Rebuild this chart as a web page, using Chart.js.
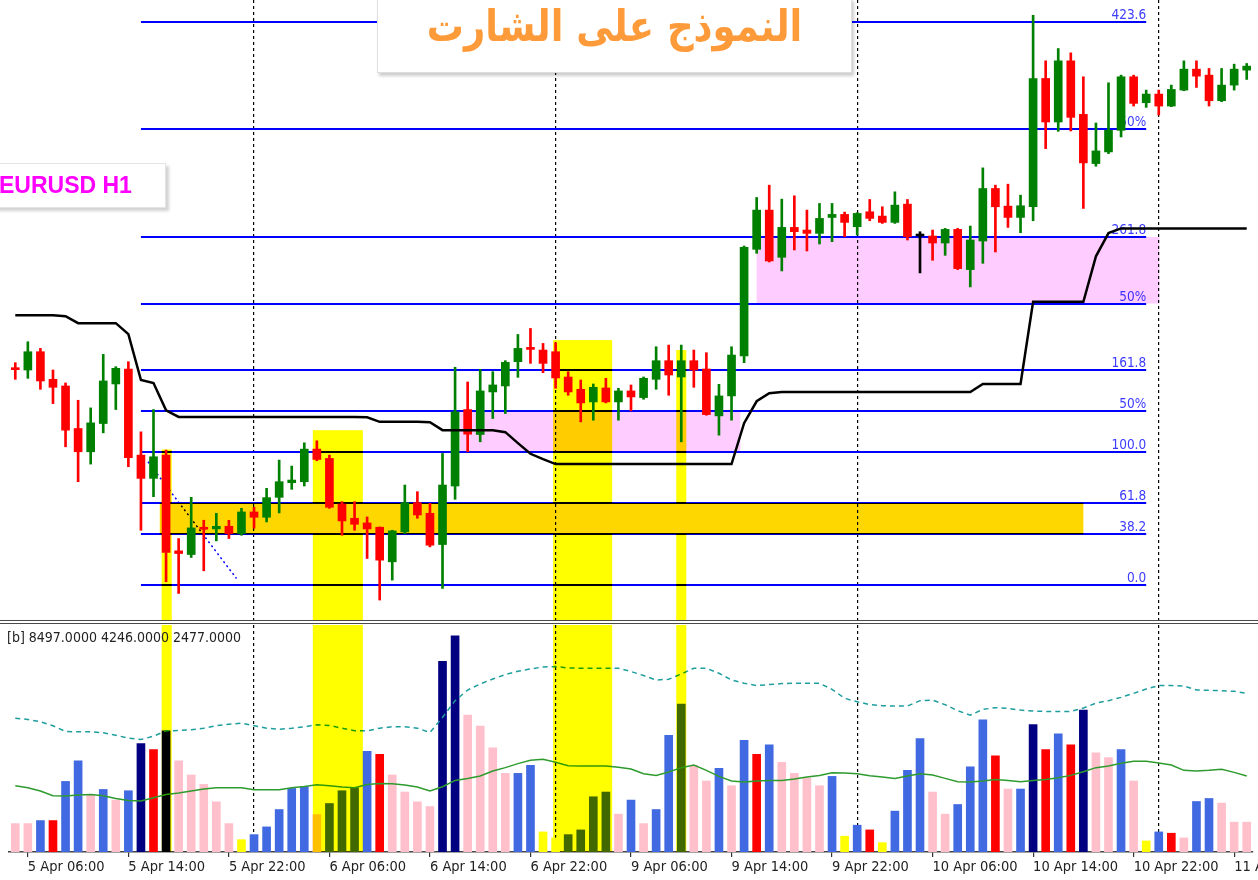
<!DOCTYPE html>
<html>
<head>
<meta charset="utf-8">
<script src="https://cdn.jsdelivr.net/npm/chart.js@4.4.1/dist/chart.umd.min.js"></script>
<style>
  html, body { margin: 0; padding: 0; background: #fff; }
  #wrap { position: relative; width: 1258px; height: 880px; overflow: hidden; background: #fff; }
  canvas { position: absolute; left: 0; }
  #priceCanvas { top: 0; }
  #volCanvas { top: 624px; }
  .split { position: absolute; left: 0; top: 620px; width: 1258px; height: 4px; box-sizing: border-box;
           border-top: 1px solid #4a4a4a; border-bottom: 1px solid #4a4a4a; }
  .volHead { position: absolute; left: 7px; top: 629px; font: 14px 'DejaVu Sans Condensed', 'DejaVu Sans', sans-serif;
             color: #222; white-space: nowrap; }
  .symbol { position: absolute; left: -6px; top: 163px; width: 172px; height: 45px; background: #fff;
            border: 1px solid #e4e4e4; box-sizing: border-box; box-shadow: 3px 3px 3px rgba(0,0,0,0.18); }
  .symbol span { position: absolute; left: 4px; top: 8px; font: bold 23px 'Liberation Sans', Arial, sans-serif; color: #ff00ff; }
  .title { position: absolute; left: 377px; top: -2px; width: 475px; height: 75px; background: #fff;
           border: 1px solid #dedede; box-sizing: border-box; box-shadow: 2px 3px 3px rgba(0,0,0,0.2);
           text-align: center; }
  .title span { display: inline-block; margin-top: 7px; font: bold 37px 'DejaVu Sans', sans-serif; color: #fd9a3a;
                transform: scale(1, 1.18); transform-origin: 50% 70%; }
</style>
</head>
<body>
<div id="wrap">
  <canvas id="priceCanvas" width="1258" height="620"></canvas>
  <div class="split"></div>
  <canvas id="volCanvas" width="1258" height="256"></canvas>
  <div class="volHead">[b] 8497.0000 4246.0000 2477.0000</div>
  <div class="symbol"><span>EURUSD H1</span></div>
  <div class="title"><span dir="rtl">النموذج على الشارت</span></div>
</div>
<script>
// hourly bars, weekend skipped
const sessions = [['5 Apr', 5, 23], ['6 Apr', 0, 23], ['9 Apr', 0, 23], ['10 Apr', 0, 23], ['11 Apr', 0, 7]];
const times = [];
sessions.forEach(([day, from, to]) => {
  for (let h = from; h <= to; h++) times.push(day + ' ' + String(h).padStart(2, '0') + ':00');
});
const tickHours = ['06:00', '14:00', '22:00'];

const opens = [
  1.22851, 1.22847, 1.22902, 1.22819, 1.22799, 1.22671, 1.22601, 1.22686, 1.22805, 1.22850,
  1.22591, 1.22521, 1.22591, 1.22303, 1.22292, 1.22372, 1.22369, 1.22377, 1.22355, 1.22420,
  1.22404, 1.22464, 1.22508, 1.22511, 1.22609, 1.22581, 1.22444, 1.22401, 1.22387, 1.22374,
  1.22270, 1.22360, 1.22448, 1.22416, 1.22322, 1.22498, 1.22728, 1.22653, 1.22781, 1.22799,
  1.22872, 1.22912, 1.22907, 1.22902, 1.22826, 1.22789, 1.22751, 1.22793, 1.22751, 1.22784,
  1.22764, 1.22819, 1.22875, 1.22826, 1.22875, 1.22850, 1.22709, 1.22769, 1.22889, 1.23210,
  1.23328, 1.23186, 1.23276, 1.23268, 1.23258, 1.23306, 1.23315, 1.23278, 1.23323, 1.23310,
  1.23291, 1.23346, 1.23250, 1.23250, 1.23229, 1.23270, 1.23149, 1.23235, 1.23393, 1.23340,
  1.23306, 1.23338, 1.23724, 1.23593, 1.23777, 1.23616, 1.23468, 1.23503, 1.23568, 1.23729,
  1.23651, 1.23677, 1.23641, 1.23689, 1.23752, 1.23734, 1.23657, 1.23704, 1.23749
];
const highs = [
  1.22869, 1.22932, 1.22912, 1.22847, 1.22808, 1.22756, 1.22733, 1.22894, 1.22857, 1.22872,
  1.22661, 1.22728, 1.22606, 1.22340, 1.22464, 1.22395, 1.22416, 1.22395, 1.22431, 1.22434,
  1.22491, 1.22576, 1.22558, 1.22628, 1.22634, 1.22591, 1.22451, 1.22451, 1.22405, 1.22375,
  1.22365, 1.22501, 1.22481, 1.22446, 1.22596, 1.22855, 1.22811, 1.22849, 1.22842, 1.22875,
  1.22954, 1.22972, 1.22927, 1.22929, 1.22842, 1.22817, 1.22805, 1.22822, 1.22792, 1.22802,
  1.22826, 1.22917, 1.22922, 1.22922, 1.22907, 1.22899, 1.22804, 1.22917, 1.23220, 1.23366,
  1.23403, 1.23361, 1.23371, 1.23328, 1.23348, 1.23348, 1.23322, 1.23320, 1.23360, 1.23338,
  1.23383, 1.23360, 1.23263, 1.23268, 1.23273, 1.23273, 1.23280, 1.23455, 1.23403, 1.23406,
  1.23373, 1.23914, 1.23777, 1.23814, 1.23801, 1.23729, 1.23590, 1.23711, 1.23734, 1.23734,
  1.23689, 1.23689, 1.23704, 1.23777, 1.23777, 1.23754, 1.23754, 1.23767, 1.23769
];
const lows = [
  1.22819, 1.22822, 1.22789, 1.22746, 1.22616, 1.22511, 1.22564, 1.22658, 1.22728, 1.22556,
  1.22365, 1.22466, 1.22210, 1.22175, 1.22283, 1.22243, 1.22333, 1.22340, 1.22350, 1.22371,
  1.22390, 1.22417, 1.22488, 1.22498, 1.22574, 1.22431, 1.22350, 1.22365, 1.22280, 1.22155,
  1.22215, 1.22355, 1.22401, 1.22315, 1.22190, 1.22458, 1.22601, 1.22631, 1.22701, 1.22716,
  1.22825, 1.22867, 1.22839, 1.22792, 1.22771, 1.22691, 1.22696, 1.22748, 1.22696, 1.22724,
  1.22759, 1.22789, 1.22771, 1.22631, 1.22795, 1.22711, 1.22651, 1.22696, 1.22869, 1.23198,
  1.23172, 1.23145, 1.23208, 1.23205, 1.23226, 1.23233, 1.23248, 1.23253, 1.23296, 1.23288,
  1.23288, 1.23238, 1.23139, 1.23177, 1.23192, 1.23149, 1.23097, 1.23168, 1.23202, 1.23276,
  1.23260, 1.23296, 1.23513, 1.23565, 1.23566, 1.23333, 1.23460, 1.23498, 1.23548, 1.23641,
  1.23637, 1.23614, 1.23639, 1.23687, 1.23697, 1.23641, 1.23654, 1.23689, 1.23721
];
const closes = [
  1.22848, 1.22902, 1.22814, 1.22795, 1.22666, 1.22601, 1.22688, 1.22814, 1.22852, 1.22583,
  1.22521, 1.22586, 1.22298, 1.22295, 1.22372, 1.22368, 1.22377, 1.22355, 1.22420, 1.22404,
  1.22463, 1.22511, 1.22516, 1.22609, 1.22578, 1.22434, 1.22393, 1.22383, 1.22369, 1.22275,
  1.22363, 1.22448, 1.22411, 1.22320, 1.22501, 1.22721, 1.22654, 1.22784, 1.22802, 1.22870,
  1.22912, 1.22909, 1.22867, 1.22823, 1.22781, 1.22748, 1.22795, 1.22751, 1.22784, 1.22766,
  1.22822, 1.22875, 1.22832, 1.22875, 1.22847, 1.22713, 1.22769, 1.22892, 1.23216, 1.23328,
  1.23175, 1.23276, 1.23263, 1.23258, 1.23303, 1.23315, 1.23291, 1.23318, 1.23303, 1.23291,
  1.23343, 1.23248, 1.23250, 1.23229, 1.23270, 1.23152, 1.23238, 1.23393, 1.23338, 1.23306,
  1.23341, 1.23724, 1.23593, 1.23777, 1.23607, 1.23470, 1.23506, 1.23568, 1.23729, 1.23649,
  1.23677, 1.23641, 1.23691, 1.23752, 1.23731, 1.23657, 1.23704, 1.23752, 1.23761
];
// black stop line over the candles
const trendStop = [
  1.23012, 1.23012, 1.23012, 1.23012, 1.23009, 1.22988, 1.22988, 1.22988, 1.22988, 1.22955,
  1.22817, 1.22808, 1.22726, 1.22706, 1.22706, 1.22706, 1.22706, 1.22706, 1.22706, 1.22706,
  1.22706, 1.22706, 1.22706, 1.22706, 1.22706, 1.22706, 1.22706, 1.22706, 1.22705, 1.22691,
  1.22691, 1.22691, 1.22691, 1.22690, 1.22666, 1.22666, 1.22666, 1.22666, 1.22666, 1.22660,
  1.22627, 1.22595, 1.22579, 1.22564, 1.22564, 1.22564, 1.22564, 1.22564, 1.22564, 1.22564,
  1.22564, 1.22564, 1.22564, 1.22564, 1.22564, 1.22564, 1.22564, 1.22564, 1.22687, 1.22753,
  1.22777, 1.22781, 1.22781, 1.22781, 1.22781, 1.22781, 1.22781, 1.22781, 1.22781, 1.22781,
  1.22781, 1.22781, 1.22781, 1.22781, 1.22781, 1.22781, 1.22781, 1.22805, 1.22805, 1.22805,
  1.22805, 1.23052, 1.23052, 1.23052, 1.23052, 1.23052, 1.23189, 1.23259, 1.23273, 1.23273,
  1.23273, 1.23273, 1.23273, 1.23273, 1.23273, 1.23273, 1.23273, 1.23273, 1.23273
];

// fibo levels, drawn from bar 10 to bar 90
const fibPrices = [1.23894, 1.23571, 1.23247, 1.23047, 1.22847, 1.22724, 1.22600, 1.22447, 1.22353, 1.22200];
const fibLabels = ['423.6', '50%', '261.8', '50%', '161.8', '50%', '100.0', '61.8', '38.2', '0.0'];
const fibSpan = [10, 90];
// [fromBar, toBar, lowPrice, highPrice]
const pinkZones = [[35.4, 57.7, 1.22600, 1.22724], [59.0, 91.05, 1.23047, 1.23247]];
const goldZones = [[11.5, 85.0, 1.22353, 1.22447]];
// [fromBar, toBar, topPrice] - runs down through the volume window
const yellowBands = [[11.65, 12.45, 1.22608], [23.68, 27.66, 1.22666], [42.8, 47.5, 1.22937], [52.6, 53.4, 1.22907]];
const trendLine = [[10.56, 1.22571], [17.6, 1.22220]];

const volumes = [
  1542, 1542, 1706, 1706, 3831, 4943, 3090, 3395, 2818, 3325,
  5886, 5559, 6578, 4943, 4180, 3668, 2725, 1542, 670, 943,
  1363, 2305, 3450, 3543, 2033, 2632, 3325, 3488, 5466, 5303,
  4180, 3254, 2725, 2469, 10355, 11734, 7428, 6829, 5652, 4267,
  4267, 4703, 1090, 763, 943, 1199, 2998, 3254, 2055, 2818,
  1542, 2305, 6338, 8028, 4703, 3853, 4540, 3597, 6066, 5303,
  5815, 4867, 4267, 4017, 3597, 4104, 856, 1455, 1199, 507,
  2218, 4431, 6159, 3254, 2055, 2578, 4616, 7178, 5216, 3417,
  3417, 6922, 5559, 6415, 5815, 7701, 5379, 5123, 5559, 3853,
  600, 1090, 1019, 763, 2741, 2905, 2654, 1619, 1619
];
// P pink, B blue, R red, N navy, Y yellow
const volKind = [
  'P','P','B','R','B','B','P','B','P','B',
  'N','R','N','P','P','P','P','P','Y','B',
  'B','B','B','B','P','B','B','B','B','R',
  'P','P','P','P','N','N','P','P','P','P',
  'B','B','Y','Y','B','B','B','B','P','B',
  'P','B','B','B','P','P','B','P','B','R',
  'B','P','P','P','P','B','Y','B','R','Y',
  'B','B','B','P','P','B','B','B','R','P',
  'B','N','R','B','R','N','P','P','B','P',
  'Y','B','R','P','B','B','P','P','P'
];
const volSignal = [
  7265, 7194, 7069, 6851, 6540, 6524, 6524, 6469, 6338, 6175,
  6104, 6284, 6578, 6595, 6633, 6720, 6851, 6938, 6992, 6851,
  6720, 6665, 6720, 6796, 6905, 6867, 6720, 6578, 6578, 6720,
  6796, 6796, 6720, 6486, 7303, 8213, 8791, 9118, 9390, 9630,
  9810, 9935, 10044, 10066, 9990, 9974, 9974, 9974, 9974, 9794,
  9576, 9336, 9374, 9663, 9974, 9974, 9701, 9336, 9156, 9031,
  9085, 9140, 9156, 9156, 9156, 8829, 8339, 8159, 7995, 7941,
  7919, 7919, 8213, 8246, 7995, 7668, 7428, 7739, 7832, 7794,
  7701, 7646, 7630, 7630, 7630, 7810, 8082, 8213, 8393, 8611,
  8845, 9031, 9031, 9009, 8791, 8775, 8758, 8720, 8611
];
const volAvg = [
  3597, 3488, 3308, 3052, 3036, 3090, 3123, 3052, 2905, 2796,
  2763, 2943, 3123, 3199, 3308, 3417, 3488, 3488, 3488, 3379,
  3379, 3379, 3488, 3559, 3652, 3597, 3526, 3488, 3668, 3722,
  3706, 3635, 3526, 3308, 3543, 3886, 3995, 4126, 4398, 4578,
  4796, 4976, 5030, 4867, 4687, 4671, 4671, 4671, 4594, 4507,
  4251, 4158, 4344, 4578, 4725, 4431, 4104, 3853, 3799, 3853,
  3886, 3886, 3962, 4071, 4158, 4306, 4289, 4251, 4142, 4071,
  3995, 4126, 4251, 4180, 3995, 3815, 3799, 3853, 3940, 3886,
  3815, 3886, 3940, 4033, 4158, 4360, 4578, 4671, 4812, 4921,
  4921, 4834, 4725, 4431, 4398, 4431, 4485, 4322, 4126
];

const volPalette = { P: '#ffc0cb', B: '#4169e1', R: '#ff0000', N: '#000080', Y: '#ffff00' };
const candleColor = opens.map((o, i) => closes[i] > o ? '#008000' : closes[i] < o ? '#ff0000' : '#000000');
const isDayStart = i => times[i] && times[i].endsWith(' 00:00');
const isTick = i => times[i] && tickHours.some(h => times[i].endsWith(' ' + h));
const FONT = "'DejaVu Sans Condensed', 'DejaVu Sans', sans-serif";

const paper = {
  id: 'paper',
  beforeDraw(chart) {
    const c = chart.ctx;
    c.save();
    c.fillStyle = '#fff';
    c.fillRect(0, 0, chart.width, chart.height);
    c.restore();
  }
};

function box(ctx, xa, xb, ya, yb, color) {
  ctx.fillStyle = color;
  ctx.fillRect(Math.min(xa, xb), Math.min(ya, yb), Math.abs(xb - xa), Math.abs(yb - ya));
}

function drawBands(chart, fullHeight) {
  const { ctx, chartArea: a, scales: { x, y } } = chart;
  ctx.save();
  ctx.beginPath();
  ctx.rect(a.left, a.top, a.width, a.height);
  ctx.clip();
  ctx.globalCompositeOperation = 'multiply';
  yellowBands.forEach(([b0, b1, top]) => {
    const yt = fullHeight ? a.top : y.getPixelForValue(top);
    box(ctx, x.getPixelForValue(b0), x.getPixelForValue(b1), yt, a.bottom, '#ffff00');
  });
  ctx.restore();
}

const priceDecor = {
  id: 'priceDecor',
  beforeDatasetsDraw(chart) {
    const { ctx, chartArea: a, scales: { x, y } } = chart;
    ctx.save();
    ctx.beginPath();
    ctx.rect(a.left, a.top, a.width, a.height);
    ctx.clip();
    const xs = x.getPixelForValue(fibSpan[0]);
    const xe = x.getPixelForValue(fibSpan[1]);
    ctx.strokeStyle = '#0000ff';
    ctx.lineWidth = 2;
    fibPrices.forEach(p => {
      const py = Math.round(y.getPixelForValue(p));
      ctx.beginPath();
      ctx.moveTo(xs, py);
      ctx.lineTo(xe, py);
      ctx.stroke();
    });
    ctx.font = '13.5px ' + FONT;
    ctx.fillStyle = '#3c3cff';
    ctx.textAlign = 'right';
    ctx.textBaseline = 'alphabetic';
    fibPrices.forEach((p, k) => ctx.fillText(fibLabels[k], xe, Math.round(y.getPixelForValue(p)) - 3));

    // dotted trendline
    ctx.setLineDash([2, 3]);
    ctx.lineWidth = 1.5;
    ctx.beginPath();
    ctx.moveTo(x.getPixelForValue(trendLine[0][0]), y.getPixelForValue(trendLine[0][1]));
    ctx.lineTo(x.getPixelForValue(trendLine[1][0]), y.getPixelForValue(trendLine[1][1]));
    ctx.stroke();
    ctx.setLineDash([]);

    // zones mix with the lines under them
    ctx.globalCompositeOperation = 'multiply';
    pinkZones.forEach(([b0, b1, lo, hi]) =>
      box(ctx, x.getPixelForValue(b0), x.getPixelForValue(b1), y.getPixelForValue(lo), y.getPixelForValue(hi), '#ffccff'));
    goldZones.forEach(([b0, b1, lo, hi]) =>
      box(ctx, x.getPixelForValue(b0), x.getPixelForValue(b1), y.getPixelForValue(lo), y.getPixelForValue(hi), '#ffd700'));
    ctx.restore();
  },
  afterDatasetsDraw(chart) { drawBands(chart, false); }
};

const volDecor = {
  id: 'volDecor',
  afterDatasetsDraw(chart) { drawBands(chart, true); }
};

const dayGrid = {
  offset: false,
  color: ctx => isDayStart(ctx.index) ? '#000' : 'rgba(0,0,0,0)',
  lineWidth: 1.2
};

new Chart(document.getElementById('priceCanvas'), {
  type: 'bar',
  data: {
    labels: times,
    datasets: [
      {
        type: 'line', data: trendStop, borderColor: '#000', borderWidth: 2.5,
        pointRadius: 0, tension: 0, order: 0
      },
      {
        data: opens.map((o, i) => [o, closes[i]]), backgroundColor: candleColor,
        barThickness: 8, minBarLength: 2, grouped: false, order: 1
      },
      {
        data: lows.map((l, i) => [l, highs[i]]), backgroundColor: candleColor,
        barThickness: 2, grouped: false, order: 2
      }
    ]
  },
  options: {
    responsive: false,
    animation: false,
    layout: { padding: { left: 9, right: 5, top: 0, bottom: 0 } },
    plugins: { legend: { display: false }, tooltip: { enabled: false } },
    scales: {
      x: {
        offset: true,
        grid: { ...dayGrid, drawTicks: false },
        border: { display: false, dash: [3, 3] },
        ticks: { display: false }
      },
      y: { display: false, min: 1.22095, max: 1.23960 }
    }
  },
  plugins: [paper, priceDecor]
});

new Chart(document.getElementById('volCanvas'), {
  type: 'bar',
  data: {
    labels: times,
    datasets: [
      {
        type: 'line', data: volSignal, borderColor: '#1f9e9e', borderWidth: 1.5,
        borderDash: [5, 4], pointRadius: 0, tension: 0, order: 0
      },
      {
        type: 'line', data: volAvg, borderColor: '#2e9b2e', borderWidth: 1.5,
        pointRadius: 0, tension: 0, order: 0
      },
      {
        data: volumes, backgroundColor: volKind.map(k => volPalette[k]),
        barThickness: 8, order: 1
      }
    ]
  },
  options: {
    responsive: false,
    animation: false,
    layout: { padding: { left: 9, right: 5, top: 1, bottom: 0 } },
    plugins: { legend: { display: false }, tooltip: { enabled: false } },
    scales: {
      x: {
        offset: true,
        grid: {
          ...dayGrid,
          tickColor: ctx => isTick(ctx.index) ? '#333' : 'rgba(0,0,0,0)',
          tickLength: 5,
          tickBorderDash: []
        },
        border: { display: true, color: '#444', width: 1.5, dash: [3, 3] },
        ticks: {
          autoSkip: false, maxRotation: 0, align: 'start', padding: 2,
          color: '#222', font: { family: FONT, size: 14.5 },
          callback: (v, i) => isTick(i) ? times[i] : ''
        },
        afterFit: s => { s.height = 28; }
      },
      y: { display: false, min: 0, max: 12320 }
    }
  },
  plugins: [paper, volDecor]
});
</script>
</body>
</html>
